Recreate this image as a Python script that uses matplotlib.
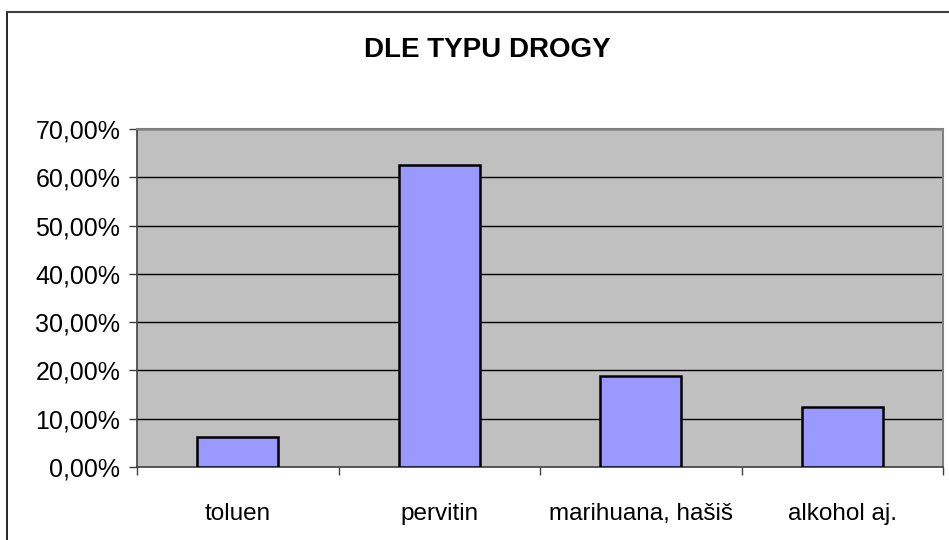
import matplotlib.pyplot as plt
from matplotlib.lines import Line2D
from matplotlib.ticker import FuncFormatter
import numpy as np

plt.rcParams['font.family'] = ['Liberation Sans', 'DejaVu Sans']

# Data
categories = ["toluen", "pervitin", "marihuana, hašiš", "alkohol aj."]
shares = [6.25, 62.5, 18.75, 12.5]
yticks = [0, 10, 20, 30, 40, 50, 60, 70]


def pct_format(v, pos):
    return ('%.2f%%' % v).replace('.', ',')


fig = plt.figure(figsize=(9.49, 5.4), dpi=100)
ax = fig.add_axes([137 / 949, 73 / 540, 806 / 949, 338 / 540])
ax.set_facecolor('#C0C0C0')

x = np.arange(len(categories))
ax.bar(x, shares, width=0.4, color='#9999FF', edgecolor='black',
       linewidth=1.8, zorder=3)

ax.set_xlim(-0.5, len(categories) - 0.5)
ax.set_ylim(0, 70)
ax.set_yticks(yticks)
ax.yaxis.set_major_formatter(FuncFormatter(pct_format))
for v in yticks[1:]:
    ax.axhline(v, color='black', linewidth=1.0, zorder=1)

# category labels centred, tick marks on the boundaries
ax.set_xticks(x)
ax.set_xticklabels(categories)
ax.set_xticks(np.arange(len(categories) + 1) - 0.5, minor=True)
ax.tick_params(axis='x', which='major', length=0, pad=26, labelsize=17.5)
ax.tick_params(axis='x', which='minor', length=6, width=1, color='#404040')
ax.tick_params(axis='y', length=6, width=1, color='#404040', labelsize=18, pad=6)

for s in ['left', 'bottom']:
    ax.spines[s].set_color('#404040')
    ax.spines[s].set_linewidth(1.2)
for s in ['top', 'right']:
    ax.spines[s].set_color('#808080')
    ax.spines[s].set_linewidth(1.5)

fig.text(487 / 949, 1 - 50 / 540, "DLE TYPU DROGY", ha='center', va='center',
         fontsize=20, fontweight='bold')

# outer chart border (right and bottom edges lie outside the image)
fig.add_artist(Line2D([7 / 949, 7 / 949], [0, 1 - 12 / 540], color='black',
                      linewidth=1.2, transform=fig.transFigure))
fig.add_artist(Line2D([7 / 949, 1], [1 - 12 / 540, 1 - 12 / 540], color='#404040',
                      linewidth=1.5, transform=fig.transFigure))

fig.savefig('out.png', dpi=100)
